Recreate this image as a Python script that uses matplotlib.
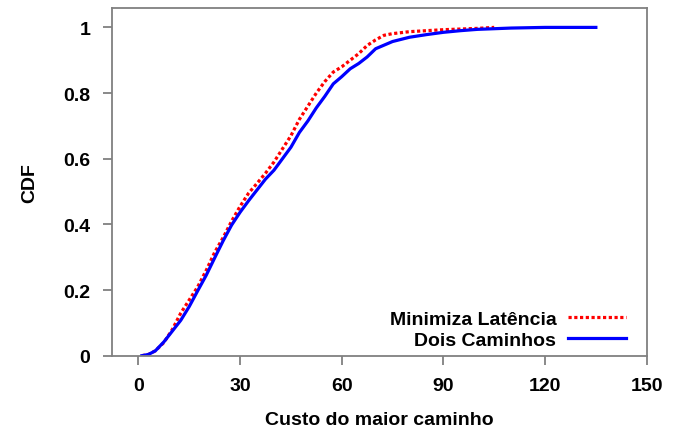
import matplotlib
matplotlib.use("Agg")
import matplotlib.pyplot as plt

# CDF points
lat_x = [1, 3, 5, 7.5, 10, 12.5, 15, 17.5, 20, 22.5, 25, 27.5, 30, 32.5, 35, 37.5,
         40, 42.5, 45, 47.5, 50, 52.5, 55, 57.5, 60, 62.5, 65, 67.5, 70, 72.5, 75,
         80, 85, 90, 95, 100, 105]
lat_y = [0, 0.004, 0.015, 0.04, 0.08, 0.13, 0.17, 0.21, 0.26, 0.315, 0.36, 0.41,
         0.455, 0.495, 0.525, 0.556, 0.59, 0.63, 0.67, 0.72, 0.76, 0.80, 0.835, 0.864,
         0.88, 0.90, 0.92, 0.945, 0.962, 0.976, 0.981, 0.987, 0.99, 0.993, 0.995,
         0.997, 1.0]

dois_x = [1, 3, 5, 7.5, 10, 12.5, 15, 17.5, 20, 22.5, 25, 27.5, 30, 32.5, 35, 37.5,
          40, 42.5, 45, 47.5, 50, 52.5, 55, 57.5, 60, 62.5, 65, 67.5, 70, 75, 80,
          85, 90, 95, 100, 105, 110, 120, 135]
dois_y = [0, 0.004, 0.015, 0.042, 0.075, 0.108, 0.15, 0.198, 0.245, 0.298, 0.35,
          0.398, 0.437, 0.472, 0.505, 0.538, 0.565, 0.60, 0.635, 0.68, 0.715, 0.755,
          0.79, 0.828, 0.85, 0.874, 0.89, 0.91, 0.935, 0.957, 0.97, 0.978, 0.985,
          0.99, 0.994, 0.996, 0.998, 1.0, 1.0]

x_ticks = [0, 30, 60, 90, 120, 150]
y_ticks = [0, 0.2, 0.4, 0.6, 0.8, 1]
y_tick_labels = ["0", "0.2", "0.4", "0.6", "0.8", "1"]

plt.rcParams["font.family"] = ["Liberation Sans", "DejaVu Sans"]
plt.rcParams["font.weight"] = "bold"

fig = plt.figure(figsize=(6.81, 4.35), dpi=100)
ax = fig.add_axes([0.1645, 0.18, 0.7851, 0.80])

ax.plot(lat_x, lat_y, color="red", lw=2.3, linestyle=(0, (1, 0.8)),
        label="Minimiza Latência")
ax.plot(dois_x, dois_y, color="blue", lw=2.3, label="Dois Caminhos")

ax.set_xlim(-7.8, 150)
ax.set_ylim(0, 1.06)
ax.set_xticks(x_ticks)
ax.set_yticks(y_ticks)
ax.set_yticklabels(y_tick_labels)

for s in ax.spines.values():
    s.set_color("#808080")
    s.set_linewidth(1.3)
ax.tick_params(direction="out", length=6.5, width=1.3, color="#808080",
               labelsize=14, pad=9)
for lab in ax.get_xticklabels() + ax.get_yticklabels():
    lab.set_fontweight("bold")

ax.set_xlabel("Custo do maior caminho", fontsize=14, fontweight="bold", labelpad=12)
ax.set_ylabel("CDF", fontsize=14, fontweight="bold", labelpad=18)

ax.legend(loc="lower right", bbox_to_anchor=(0.962, 0.02), frameon=False,
          markerfirst=False, fontsize=14, handlelength=3.0, handletextpad=0.6,
          labelspacing=0.15, borderpad=0, borderaxespad=0)

fig.savefig("out.png", dpi=100)
